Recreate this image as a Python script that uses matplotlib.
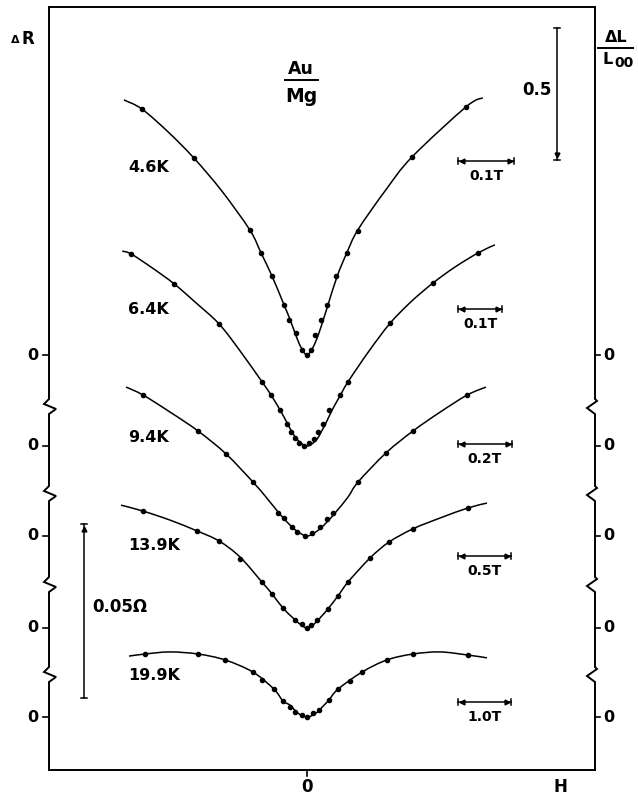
import matplotlib
matplotlib.use("Agg")
import matplotlib.pyplot as plt
from matplotlib.path import Path
from matplotlib.patches import PathPatch

# Au/Mg magnetoresistance, five temperatures.  H in tesla, dR in milliohm.
temperatures = ["4.6K", "6.4K", "9.4K", "13.9K", "19.9K"]
field_bars = [0.1, 0.1, 0.2, 0.5, 1.0]  # tesla, one field scale bar per curve
resistance_bar = 50.0  # milliohm (0.05 ohm)
length_bar = 0.5  # dL/L00

# measured points
h_46 = [-0.295, -0.202, -0.102, -0.082, -0.062, -0.041, -0.032, -0.020, -0.009, 0.000,
        0.007, 0.014, 0.025, 0.036, 0.052, 0.071, 0.091, 0.188, 0.284]
dr_46 = [70.7, 56.6, 35.9, 29.3, 22.7, 14.4, 10.1, 6.3, 1.4, 0.0,
         1.4, 5.7, 10.1, 14.4, 22.7, 29.3, 35.6, 56.9, 71.3]

h_64 = [-0.400, -0.302, -0.200, -0.102, -0.082, -0.061, -0.045, -0.036, -0.027, -0.018, -0.007,
        0.005, 0.016, 0.025, 0.036, 0.050, 0.075, 0.093, 0.189, 0.286, 0.389]
dr_64 = [55.2, 46.6, 35.1, 18.4, 14.7, 10.3, 6.3, 4.0, 2.3, 0.9, 0.0,
         0.9, 2.0, 4.0, 6.3, 10.3, 14.7, 18.4, 35.3, 46.8, 55.5]

h_94 = [-0.607, -0.404, -0.300, -0.200, -0.107, -0.085, -0.056, -0.037, -0.007,
        0.019, 0.048, 0.074, 0.096, 0.189, 0.293, 0.393, 0.593]
dr_94 = [40.5, 30.2, 23.6, 15.5, 6.6, 5.2, 2.6, 1.1, 0.0,
         0.9, 2.6, 4.9, 6.6, 15.5, 23.9, 30.2, 40.5]

h_139 = [-1.547, -1.038, -0.830, -0.632, -0.425, -0.330, -0.226, -0.113, -0.047, 0.000,
         0.038, 0.094, 0.198, 0.292, 0.387, 0.594, 0.774, 1.000, 1.519]
dr_139 = [33.6, 27.9, 25.0, 19.8, 13.2, 9.8, 5.7, 2.3, 1.1, 0.0,
          0.9, 2.3, 5.5, 9.2, 13.2, 20.1, 24.7, 28.5, 34.5]

h_199 = [-3.057, -2.057, -1.547, -1.019, -0.849, -0.623, -0.453, -0.321, -0.226, -0.094, 0.000,
         0.113, 0.226, 0.415, 0.585, 0.811, 1.038, 1.509, 2.000, 3.038]
dr_199 = [18.1, 18.1, 16.4, 12.9, 10.6, 8.0, 4.6, 2.9, 1.4, 0.6, 0.0,
          1.1, 2.0, 4.9, 8.0, 10.3, 12.9, 16.4, 18.1, 17.8]

# fitted curves
fit_h_46 = [-0.327, -0.295, -0.248, -0.202, -0.152, -0.102, -0.082, -0.0625, -0.041, -0.030,
            -0.020, -0.011, 0.0, 0.011, 0.020, 0.029, 0.0375, 0.054, 0.071, 0.091,
            0.141, 0.1875, 0.284, 0.314]
fit_dr_46 = [73.3, 70.7, 64.1, 56.6, 47.1, 35.9, 29.3, 22.7, 14.4, 10.1,
             5.7, 2.3, 0.0, 2.3, 5.7, 10.1, 14.4, 22.7, 29.3, 36.0,
             47.5, 56.9, 71.3, 73.9]

fit_h_64 = [-0.420, -0.400, -0.352, -0.302, -0.252, -0.200, -0.152, -0.102, -0.082, -0.061,
            -0.045, -0.034, -0.023, -0.011, 0.0, 0.011, 0.023, 0.032, 0.043, 0.057, 0.075,
            0.093, 0.141, 0.189, 0.236, 0.286, 0.336, 0.389, 0.427]
fit_dr_64 = [56.0, 55.2, 51.2, 46.6, 41.1, 35.1, 27.3, 18.4, 14.7, 10.3,
             6.6, 4.0, 2.0, 0.6, 0.0, 0.6, 2.0, 4.0, 6.6, 10.3, 14.4,
             18.4, 27.3, 35.3, 41.4, 46.8, 51.4, 55.5, 57.8]

fit_h_94 = [-0.670, -0.607, -0.507, -0.404, -0.300, -0.200, -0.152, -0.107, -0.070, -0.037, 0.0,
            0.037, 0.070, 0.107, 0.152, 0.189, 0.293, 0.393, 0.493, 0.593, 0.663]
fit_dr_94 = [42.8, 40.5, 35.6, 30.2, 23.6, 15.5, 11.2, 6.9, 3.7, 1.4, 0.0,
             1.4, 3.7, 6.9, 11.2, 15.5, 23.9, 30.2, 35.6, 40.5, 42.8]

fit_h_139 = [-1.755, -1.547, -1.292, -1.038, -0.830, -0.632, -0.425, -0.330, -0.226, -0.132,
             -0.066, 0.0, 0.066, 0.132, 0.198, 0.292, 0.387, 0.594, 0.774, 1.000, 1.255,
             1.519, 1.698]
fit_dr_139 = [35.3, 33.6, 31.0, 27.9, 25.0, 20.4, 13.2, 9.8, 5.7, 2.9,
              1.1, 0.0, 1.1, 3.2, 5.5, 9.2, 13.2, 20.1, 24.7, 28.5, 31.6,
              34.5, 35.9]

fit_h_199 = [-3.358, -3.057, -2.585, -2.057, -1.547, -1.019, -0.623, -0.453, -0.321, -0.170, 0.0,
             0.170, 0.321, 0.415, 0.585, 1.038, 1.509, 2.000, 2.509, 3.038, 3.396]
fit_dr_199 = [17.5, 18.1, 18.7, 18.1, 16.4, 12.9, 8.0, 4.6, 3.4, 1.1, 0.0,
              1.1, 3.4, 4.9, 8.0, 12.9, 16.4, 18.1, 18.7, 17.8, 17.0]

points = [(h_46, dr_46), (h_64, dr_64), (h_94, dr_94), (h_139, dr_139), (h_199, dr_199)]
fits = [(fit_h_46, fit_dr_46), (fit_h_64, fit_dr_64), (fit_h_94, fit_dr_94),
        (fit_h_139, fit_dr_139), (fit_h_199, fit_dr_199)]

# chart units are sheet pixels, x measured from H = 0, y from the bottom frame
PX_PER_T = [560, 440, 270, 106, 53]
PX_PER_MOHM = 174 / 50.0
PX_PER_DL = 264
BASELINES = [415, 324, 234, 142, 53]
BREAKS = [399, 486, 577, 667]  # sheet rows where the side axes are broken
X_LEFT, X_RIGHT, Y_TOP = -258, 288, 763

BOLD = dict(family="DejaVu Sans", fontweight="bold", color="black")


def sheet(x, y):
    # sheet pixel (right, down) -> data coordinates
    return x - 307, 770 - y


def smooth_path(xs, ys):
    # cubic Bezier through every fit point (Catmull-Rom tangents)
    pts = list(zip(xs, ys))
    verts = [pts[0]]
    codes = [Path.MOVETO]
    n = len(pts)
    for i in range(n - 1):
        p0 = pts[max(i - 1, 0)]
        p1 = pts[i]
        p2 = pts[i + 1]
        p3 = pts[min(i + 2, n - 1)]
        c1 = (p1[0] + (p2[0] - p0[0]) / 6, p1[1] + (p2[1] - p0[1]) / 6)
        c2 = (p2[0] - (p3[0] - p1[0]) / 6, p2[1] - (p3[1] - p1[1]) / 6)
        verts += [c1, c2, p2]
        codes += [Path.CURVE4] * 3
    return Path(verts, codes)


def side_line(ax, x0, shape):
    xs, ys = [x0], [Y_TOP]
    for b in BREAKS:
        for dx, dy in shape:
            xs.append(x0 + dx)
            ys.append(770 - b - dy)
    xs.append(x0)
    ys.append(0)
    ax.plot(xs, ys, color="black", lw=1.4, clip_on=False, solid_joinstyle="miter")


def field_bar(ax, i):
    x0, y = sheet(458, 0)[0], BASELINES[i] + [194, 137, 92, 72, 15][i]
    x1 = x0 + field_bars[i] * PX_PER_T[i]
    ax.plot([x0, x1], [y, y], color="black", lw=1.1)
    for xc in (x0, x1):
        ax.plot([xc, xc], [y - 3, y + 3], color="black", lw=1.1)
    ax.plot([x0 + 4], [y], marker="<", ms=3.5, color="black")
    ax.plot([x1 - 4], [y], marker=">", ms=3.5, color="black")
    label = "%.1fT" % field_bars[i]
    ax.text((x0 + x1) / 2, y - 15, label, ha="center", va="center", fontsize=10, **BOLD)


def draw():
    fig = plt.figure(figsize=(6.38, 7.97), dpi=100)
    ax = fig.add_axes([49 / 638, 27 / 797, 546 / 638, 763 / 797])
    ax.set_xlim(X_LEFT, X_RIGHT)
    ax.set_ylim(0, Y_TOP)
    ax.set_xticks([])
    ax.set_yticks([])
    ax.spines["left"].set_visible(False)
    ax.spines["right"].set_visible(False)
    ax.spines["top"].set_linewidth(1.4)
    ax.spines["bottom"].set_linewidth(1.4)

    side_line(ax, X_LEFT, [(0, 0), (-5, 5), (7, 10), (0, 15)])
    side_line(ax, X_RIGHT, [(0, 0), (2, 2), (-8, 9), (0, 15)])

    # zero marks on both sides
    for b in BASELINES:
        ax.plot([X_LEFT - 6, X_LEFT], [b, b], color="black", lw=1.2, clip_on=False)
        ax.plot([X_RIGHT, X_RIGHT + 5], [b, b], color="black", lw=1.2, clip_on=False)
        ax.text(X_LEFT - 16, b, "0", ha="center", va="center", fontsize=11.5, **BOLD)
        ax.text(X_RIGHT + 14, b, "0", ha="center", va="center", fontsize=11.5, **BOLD)
    ax.plot([0, 0], [0, -6], color="black", lw=1.2, clip_on=False)
    ax.text(0, -17, "0", ha="center", va="center", fontsize=12, **BOLD)
    ax.text(*sheet(560, 787), "H", ha="center", va="center", fontsize=12, **BOLD)

    # curves
    label_rows = [167, 310, 437, 545, 675]
    for i, name in enumerate(temperatures):
        fh, fr = fits[i]
        ph, pr = points[i]
        path = smooth_path([h * PX_PER_T[i] for h in fh],
                           [BASELINES[i] + r * PX_PER_MOHM for r in fr])
        ax.add_patch(PathPatch(path, fill=False, edgecolor="black", lw=1.1))
        ax.plot([h * PX_PER_T[i] for h in ph], [BASELINES[i] + r * PX_PER_MOHM for r in pr],
                "o", color="black", ms=3.0)
        ax.text(*sheet(128, label_rows[i]), name, ha="left", va="center", fontsize=11.5, **BOLD)
        field_bar(ax, i)

    # resistance scale
    x, y0 = sheet(84, 698)
    y1 = y0 + resistance_bar * PX_PER_MOHM
    ax.plot([x, x], [y0, y1], color="black", lw=1.1)
    for yc in (y0, y1):
        ax.plot([x - 3, x + 3], [yc, yc], color="black", lw=1.1)
    ax.plot([x], [y1 - 5], marker="^", ms=3.5, color="black")
    ax.text(*sheet(92, 607), "0.05\u03a9", ha="left", va="center", fontsize=12, **BOLD)

    # dL/L00 scale
    x, y0 = sheet(557, 160)
    y1 = y0 + length_bar * PX_PER_DL
    ax.plot([x, x], [y0, y1], color="black", lw=1.1, clip_on=False)
    for yc in (y0, y1):
        ax.plot([x - 3, x + 3], [yc, yc], color="black", lw=1.1)
    ax.plot([x], [y0 + 5], marker="v", ms=3.5, color="black")
    ax.text(*sheet(537, 90), "0.5", ha="center", va="center", fontsize=12, **BOLD)

    # titles
    ax.text(*sheet(15, 40), "\u0394", ha="center", va="center", fontsize=8, **BOLD)
    ax.text(*sheet(28, 39), "R", ha="center", va="center", fontsize=12, **BOLD)

    ax.text(*sheet(301, 69), "Au", ha="center", va="center", fontsize=12.5, **BOLD)
    xa, ya = sheet(285, 80)
    xb, _ = sheet(318, 80)
    ax.plot([xa, xb], [ya, ya], color="black", lw=1.4)
    ax.text(*sheet(301, 96), "Mg", ha="center", va="center", fontsize=13.5, **BOLD)

    ax.text(*sheet(616, 38), "\u0394L", ha="center", va="center", fontsize=11.5, **BOLD)
    xa, ya = sheet(598, 48)
    xb, _ = sheet(633, 48)
    ax.plot([xa, xb], [ya, ya], color="black", lw=1.4, clip_on=False)
    ax.text(*sheet(608, 59), "L", ha="center", va="center", fontsize=11.5, **BOLD)
    ax.text(*sheet(624, 63), "00", ha="center", va="center", fontsize=10, **BOLD)

    fig.savefig("out.png", dpi=100)


draw()
